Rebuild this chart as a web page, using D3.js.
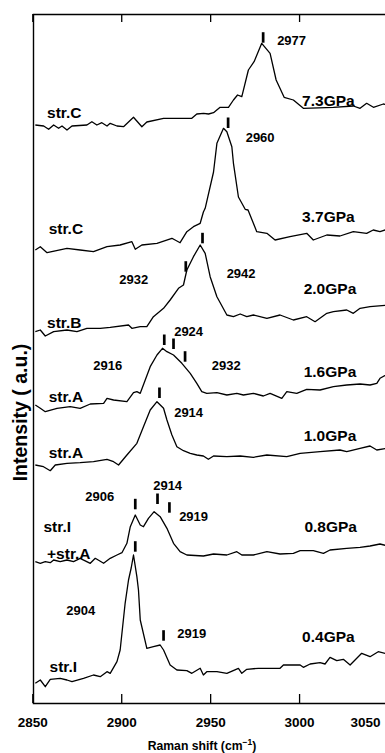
<!DOCTYPE html>
<html>
<head>
<meta charset="utf-8">
<script src="https://cdn.jsdelivr.net/npm/d3@7"></script>
<style>
  html, body { margin: 0; padding: 0; background: #fff; }
  svg { display: block; font-family: "Liberation Sans", Arial, Helvetica, sans-serif; font-weight: bold; }
</style>
</head>
<body>
<div id="chart"></div>
<script>
// Raman spectra, stacked (shift in cm-1, intensity in a.u. incl. offset)
const spec73 = [[2851.7,578],[2856.4,577],[2859.2,573.7],[2862.0,578],[2864.8,574.7],[2866.7,577],[2869.5,573],[2872.3,577],[2880.7,578],[2883.5,581.3],[2886.3,578],[2889.1,580.3],[2892.0,577],[2893.8,579.7],[2897.6,577],[2901.3,576.3],[2906.9,585.7],[2911.6,576.3],[2914.4,581],[2923.8,584.7],[2939.7,584.7],[2942.5,589],[2946.3,589.7],[2949.1,589],[2951.9,590.3],[2955.6,595.7],[2960.3,595.7],[2963.1,603],[2965.4,608],[2967.8,606.3],[2971.5,633],[2974.7,641.3],[2979.0,659.7],[2983.7,649.7],[2987.1,623],[2991.6,605.7],[2996.8,603],[3002.4,594.7],[3019.3,595.7],[3030.5,597],[3034.3,594.7],[3038.0,599.7],[3041.8,595.7],[3047.4,599],[3050,598]];
const spec37 = [[2851.7,453],[2854.5,456.3],[2858.3,450.3],[2869.5,454.7],[2876.9,453],[2884.4,451.3],[2892.0,456.3],[2899.4,458],[2906.0,461.3],[2907.9,453.7],[2911.6,458],[2920.1,459.7],[2928.5,464.7],[2933.1,460.3],[2936.9,471.3],[2940.6,476.3],[2944.4,479.7],[2946.2,491],[2947.2,494.7],[2951.9,531],[2953.8,559.7],[2957.5,574.7],[2959.4,571.3],[2962.2,556.3],[2963.1,539.7],[2965.9,506],[2969.7,493.7],[2971.3,493],[2976.2,471.3],[2981.9,469.7],[2986.5,463],[2994.9,466.3],[3004.3,469.7],[3008.0,463],[3015.6,468],[3023.0,467],[3030.5,471.3],[3038.0,469.7],[3041.7,473],[3045.5,471.3],[3050,474]];
const spec20 = [[2851.7,371.3],[2854.5,373],[2857.3,367],[2862.0,371.3],[2869.5,373],[2875.1,371.3],[2880.7,374.7],[2888.2,374.7],[2893.8,375.7],[2904.1,378],[2906.0,374.7],[2910.7,376.3],[2914.4,376.3],[2918.1,386.3],[2923.8,394.7],[2927.5,403],[2932.2,414.7],[2935.0,418],[2936.9,433],[2940.6,446.3],[2944.4,458],[2947.2,449.7],[2950.0,426.3],[2953.8,406.3],[2959.4,388],[2963.1,386.3],[2966.9,389],[2970.6,386.3],[2974.3,388],[2981.9,384.7],[2989.3,388],[2996.8,383],[3004.3,386.3],[3009.0,381.3],[3015.6,389.7],[3019.3,391.3],[3026.8,393],[3030.5,389.7],[3034.3,394.7],[3039.9,396.3],[3050,398]];
const spec16 = [[2851.7,298],[2854.5,294.7],[2857.3,291.3],[2863.9,294.7],[2871.3,296.3],[2876.9,294.7],[2882.6,299],[2890.1,299.7],[2892.0,304.7],[2895.7,303],[2903.2,301.3],[2906.9,310.3],[2908.8,311.3],[2910.7,309.7],[2913.5,323],[2916.3,336.3],[2920.1,348],[2923.2,354.7],[2925.7,351.3],[2929.4,348],[2934.1,339.7],[2938.8,329.7],[2942.5,319.7],[2945.3,311.3],[2948.1,309.7],[2953.8,310.3],[2959.4,308],[2965.0,309.7],[2968.7,308],[2974.3,309.7],[2979.9,307],[2983.7,309.7],[2990.3,304.7],[2993.1,311.3],[2998.7,309.7],[3004.3,313.7],[3011.8,313],[3019.3,316.3],[3026.8,318],[3034.3,319],[3039.9,318],[3043.7,319.7],[3045.5,324.7],[3050,329]];
const spec10 = [[2851.7,238],[2856.3,236.3],[2860.1,232.3],[2862.9,238],[2869.5,239.7],[2876.9,240.3],[2884.4,241.3],[2892.0,243.7],[2895.7,241.3],[2898.5,238],[2903.2,248],[2908.8,259.7],[2912.5,276.3],[2916.3,293],[2920.1,301.3],[2923.8,294.7],[2925.7,283],[2928.5,268],[2931.3,256.3],[2935.0,252.3],[2938.8,249.7],[2942.5,248],[2946.2,247],[2949.0,243.7],[2951.9,247],[2959.4,246.3],[2966.9,247],[2974.3,245.7],[2981.9,248],[2993.1,246.3],[3000.6,249.7],[3011.8,251.3],[3023.0,253],[3026.8,251.3],[3034.3,254.7],[3039.9,257],[3043.7,253],[3050,255]];
const spec08 = [[2851.7,141.3],[2854.5,139.7],[2857.3,141.3],[2860.1,140.3],[2862.0,143],[2865.7,141.3],[2869.5,143],[2873.2,141.3],[2876.9,144.7],[2882.6,139.7],[2885.4,144.7],[2890.1,139.7],[2893.8,144.7],[2897.6,148],[2900.4,150.3],[2903.2,159.7],[2905.1,176.3],[2907.9,188],[2910.7,178],[2912.5,176.3],[2915.3,184.7],[2918.5,191.3],[2921.9,186.3],[2925.7,174.7],[2929.4,159.7],[2933.1,151.3],[2936.9,148],[2946.2,147],[2951.9,149],[2959.4,148],[2965.0,151.3],[2967.8,148],[2974.3,148],[2981.9,151.3],[2989.3,149],[2996.8,149.7],[3000.6,152.3],[3008.0,152.3],[3013.7,149.7],[3017.4,153],[3026.8,154.7],[3034.3,155.7],[3039.9,157],[3045.5,159],[3050,157]];
const spec04 = [[2851.7,19.7],[2854.5,23],[2857.3,16.3],[2860.1,23.7],[2865.7,24.7],[2869.5,23],[2872.3,21.3],[2878.8,24.7],[2884.4,28],[2888.2,26.3],[2892.0,31.3],[2893.8,29.7],[2897.6,41.3],[2899.4,53],[2902.2,99.7],[2904.1,123],[2905.6,135],[2906.9,148],[2908.8,126.3],[2909.7,113],[2910.7,83],[2914.4,54.7],[2918.1,56.3],[2921.9,58],[2923.8,53],[2927.5,38],[2931.3,33],[2936.9,32.3],[2939.7,29.7],[2944.4,34.7],[2946.2,28],[2948.1,31.3],[2953.8,31.3],[2959.4,29.7],[2965.9,34.7],[2967.8,29.7],[2970.6,33.7],[2977.1,34.7],[2989.3,34.7],[2991.2,38],[3000.6,38],[3002.4,35.7],[3006.2,39],[3011.8,40.3],[3014.6,39],[3017.4,45.7],[3021.2,42.3],[3024.9,43.7],[3028.7,38],[3035.2,49.7],[3039.9,46.3],[3044.5,51.3],[3050,49]];

const spectra = [spec73, spec37, spec20, spec16, spec10, spec08, spec04];

// pressure labels (left edge shift, level)
const pressureNames = ["7.3GPa", "3.7GPa", "2.0GPa", "1.6GPa", "1.0GPa", "0.8GPa", "0.4GPa"];
const pressureShift = [3001.7, 3001.7, 3002.6, 3002.6, 3002.6, 3003.0, 3001.7];
const pressureLevel = [603, 487, 414.7, 331.3, 268, 176.3, 67];

// structure labels
const structNames = ["str.C", "str.C", "str.B", "str.A", "str.A", "str.I", "+str.A", "str.I"];
const structShift = [2858.3, 2859.2, 2858.3, 2859.2, 2859.2, 2856.3, 2858.3, 2859.7];
const structLevel = [591, 475, 380.3, 306.3, 250.3, 176.3, 149.7, 37];

// peak marks (shift, level of lower end)
const markShift = [2979.8, 2960.1, 2945.7, 2936.3, 2924.2, 2929.4, 2935.9, 2921.5, 2907.9, 2920.4, 2927.1, 2907.9, 2923.8];
const markLevel = [660.3, 575, 459.7, 431.3, 358, 354, 341.3, 305, 193.7, 199, 190.3, 151.3, 62.3];

// peak values written next to the marks (centre shift, level)
const peakNames = ["2977", "2960", "2932", "2942", "2924", "2916", "2932", "2914", "2906", "2914", "2919", "2904", "2919"];
const peakShift = [2995.8, 2978.1, 2907.0, 2967.4, 2937.9, 2892.4, 2959.0, 2937.9, 2887.9, 2926.1, 2940.7, 2877.2, 2939.6];
const peakLevel = [662.3, 565.7, 423.7, 429.7, 371.3, 338, 338, 290.3, 206.3, 218, 186.3, 92.3, 69.7];

const xTicks = [2850, 2900, 2950, 3000, 3050];

const width = 385, height = 753;
const x = d3.scaleLinear([2850, 3050], [32.3, 388]);
const y = d3.scaleLinear([0, 689], [703, 14]);

const svg = d3.select("#chart").append("svg")
  .attr("width", width)
  .attr("height", height)
  .attr("viewBox", [0, 0, width, height]);

// bottom axis, ticks pointing in
svg.append("g")
  .attr("transform", `translate(0,${y(0)})`)
  .call(d3.axisBottom(x).tickValues(xTicks).tickFormat(d3.format("d")).tickSizeInner(-9).tickSizeOuter(0).tickPadding(14))
  .call(g => g.select(".domain").attr("stroke-width", 1.4))
  .call(g => g.selectAll(".tick line").attr("stroke-width", 1.3))
  .call(g => g.selectAll(".tick text")
    .attr("font-size", 13.5)
    .filter(d => d === 3050)
    .attr("text-anchor", "end")
    .attr("x", -8));

// top axis
svg.append("g")
  .attr("transform", `translate(0,${y(689)})`)
  .call(d3.axisTop(x).tickValues(xTicks).tickFormat("").tickSizeInner(-8).tickSizeOuter(0))
  .call(g => g.select(".domain").attr("stroke-width", 1.4))
  .call(g => g.selectAll(".tick line").attr("stroke-width", 1.3));

// left axis, no ticks
svg.append("g")
  .attr("transform", `translate(${x(2850) + 0.7},0)`)
  .call(d3.axisLeft(y).tickValues([]).tickSizeOuter(0))
  .call(g => g.select(".domain").attr("stroke-width", 1.4));

svg.selectAll("g").attr("font-family", null);

// axis titles
const xt = svg.append("text")
  .attr("x", 202)
  .attr("y", 749.5)
  .attr("text-anchor", "middle")
  .attr("font-size", 12.2)
  .text("Raman shift (cm");
xt.append("tspan").attr("font-size", 8.5).attr("dy", -4.5).text("\u22121");
xt.append("tspan").attr("dy", 4.5).text(")");

svg.append("text")
  .attr("transform", "translate(26.5,412.5) rotate(-90)")
  .attr("text-anchor", "middle")
  .attr("font-size", 19.5)
  .text("Intensity ( a.u.)");

// spectra
const line = d3.line().x(d => x(d[0])).y(d => y(d[1]));
svg.append("g")
  .attr("fill", "none")
  .attr("stroke", "#000")
  .attr("stroke-width", 1.3)
  .attr("stroke-linejoin", "round")
  .selectAll("path")
  .data(spectra)
  .join("path")
  .attr("d", line);

// peak marks
svg.append("g")
  .attr("stroke", "#000")
  .attr("stroke-width", 2.7)
  .selectAll("line")
  .data(d3.range(markShift.length))
  .join("line")
  .attr("x1", i => x(markShift[i]))
  .attr("x2", i => x(markShift[i]))
  .attr("y1", i => y(markLevel[i]))
  .attr("y2", i => y(markLevel[i]) - 10.5);

// peak values
svg.append("g")
  .attr("font-size", 13)
  .attr("text-anchor", "middle")
  .selectAll("text")
  .data(d3.range(peakNames.length))
  .join("text")
  .attr("x", i => x(peakShift[i]))
  .attr("y", i => y(peakLevel[i]))
  .attr("dy", "0.36em")
  .text(i => peakNames[i]);

// pressures
svg.append("g")
  .attr("font-size", 15.5)
  .selectAll("text")
  .data(d3.range(pressureNames.length))
  .join("text")
  .attr("x", i => x(pressureShift[i]))
  .attr("y", i => y(pressureLevel[i]))
  .attr("dy", "0.36em")
  .text(i => pressureNames[i]);

// structures
svg.append("g")
  .attr("font-size", 15.5)
  .selectAll("text")
  .data(d3.range(structNames.length))
  .join("text")
  .attr("x", i => x(structShift[i]))
  .attr("y", i => y(structLevel[i]))
  .attr("dy", "0.36em")
  .text(i => structNames[i]);
</script>
</body>
</html>
